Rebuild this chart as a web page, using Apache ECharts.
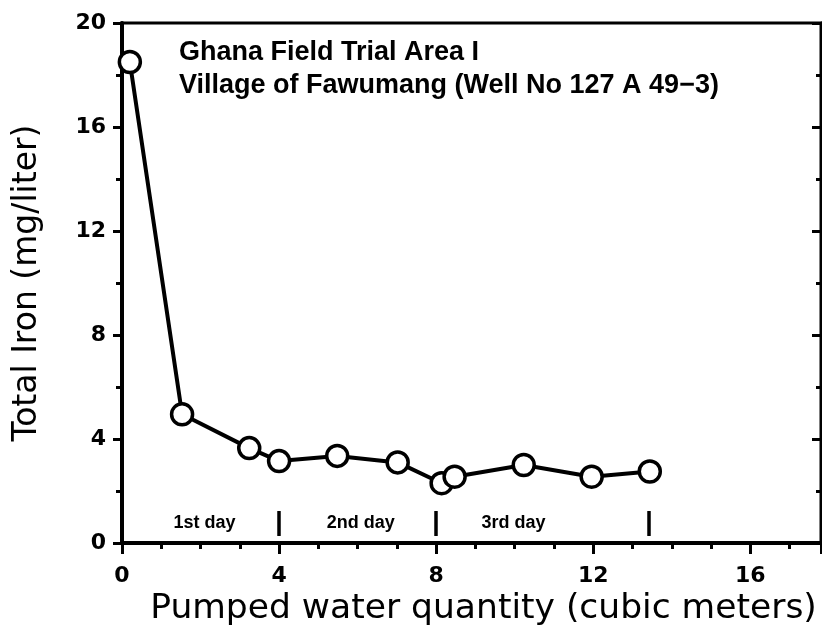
<!DOCTYPE html>
<html>
<head>
<meta charset="utf-8">
<script src="https://cdn.jsdelivr.net/npm/echarts@6/dist/echarts.min.js"></script>
<style>
  html, body { margin: 0; padding: 0; background: #fff; }
  #chart { width: 822px; height: 644px; }
</style>
</head>
<body>
<div id="chart"></div>
<script>
// pumped water (m3) vs total iron (mg/l)
const pumped = [0.2, 1.53, 3.24, 4.0, 5.48, 7.02, 8.14, 8.47, 10.23, 11.96, 13.44];
const iron = [18.5, 4.95, 3.65, 3.15, 3.35, 3.1, 2.3, 2.55, 3.0, 2.55, 2.75];

const dayNames = ['1st day', '2nd day', '3rd day'];
const dayNameX = [2.1, 6.08, 9.97];
const dayBreaks = [4, 8, 13.42];

const titleLines = ['Ghana Field Trial Area I', 'Village of Fawumang (Well No 127 A 49\u22123)'];

const chart = echarts.init(document.getElementById('chart'));

const numFont = { fontFamily: 'DejaVu Sans', fontWeight: 'bold', fontSize: 22, color: '#000' };
const titleFont = { fontFamily: 'Liberation Sans', fontWeight: 'bold', fontSize: 27, color: '#000' };

let option = {
  backgroundColor: '#fff',
  animation: false,
  title: [
    { text: titleLines[0], left: 174, top: 34, textStyle: titleFont },
    { text: titleLines[1], left: 174, top: 67, textStyle: titleFont }
  ],
  grid: {
    left: 122, top: 23, right: 1, bottom: 101,
    show: true, borderColor: '#000', borderWidth: 3, backgroundColor: 'transparent'
  },
  xAxis: {
    type: 'value', min: 0, max: 17.8, interval: 4,
    name: 'Pumped water quantity (cubic meters)',
    nameLocation: 'middle', nameGap: 45,
    nameTextStyle: { fontFamily: 'DejaVu Sans', fontSize: 34.5, color: '#000', padding: [0, 0, 0, 24] },
    axisLine: { lineStyle: { color: '#000', width: 4 } },
    axisTick: { show: true, inside: false, length: 11, lineStyle: { color: '#000', width: 3 } },
    minorTick: { show: true, splitNumber: 4, length: 6, lineStyle: { color: '#000', width: 3 } },
    axisLabel: Object.assign({ margin: 22, showMaxLabel: false }, numFont),
    splitLine: { show: false }
  },
  yAxis: [
    {
      type: 'value', min: 0, max: 20, interval: 4,
      name: 'Total Iron (mg/liter)',
      nameLocation: 'middle', nameGap: 78,
      nameTextStyle: { fontFamily: 'DejaVu Sans', fontSize: 33, color: '#000' },
      axisLine: { lineStyle: { color: '#000', width: 4 } },
      axisTick: { show: true, inside: false, length: 9, lineStyle: { color: '#000', width: 3 } },
      minorTick: { show: true, splitNumber: 2, length: 6, lineStyle: { color: '#000', width: 3 } },
      axisLabel: Object.assign({ margin: 16 }, numFont),
      splitLine: { show: false }
    },
    {
      type: 'value', min: 0, max: 20, interval: 4, position: 'right',
      axisLine: { show: true, lineStyle: { color: '#000', width: 3 } },
      axisTick: { show: true, inside: true, length: 9, lineStyle: { color: '#000', width: 3 } },
      minorTick: { show: true, splitNumber: 2, length: 5, lineStyle: { color: '#000', width: 3 } },
      axisLabel: { show: false },
      splitLine: { show: false }
    }
  ],
  series: [
    {
      type: 'line',
      data: pumped.map((x, i) => [x, iron[i]]),
      symbol: 'circle', symbolSize: 21,
      lineStyle: { color: '#000', width: 4 },
      itemStyle: { color: '#fff', borderColor: '#000', borderWidth: 3.5 },
      z: 3,
      markLine: {
        silent: true, symbol: 'none',
        label: { show: false },
        lineStyle: { color: '#000', width: 3.5, type: 'solid' },
        data: dayBreaks.map(x => [{ coord: [x, 0.27] }, { coord: [x, 1.23] }])
      }
    },
    {
      type: 'scatter',
      data: dayNameX.map((x, i) => ({ value: [x, 0.77], name: dayNames[i] })),
      symbolSize: 0,
      silent: true,
      itemStyle: { opacity: 1, color: '#000' },
      label: {
        show: true, position: 'inside',
        formatter: p => p.name,
        fontFamily: 'Liberation Sans', fontWeight: 'bold', fontSize: 18, color: '#000',
        textBorderWidth: 0, opacity: 1
      }
    }
  ]
};

chart.setOption(option);
</script>
</body>
</html>
